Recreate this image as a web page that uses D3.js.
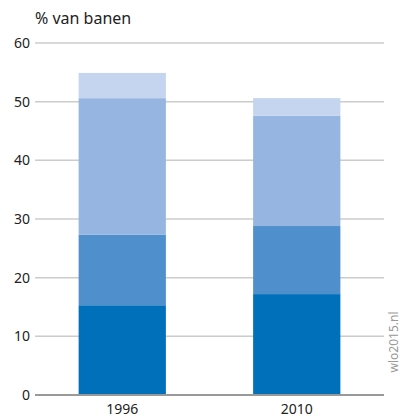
<!DOCTYPE html>
<html><head><meta charset="utf-8">
<script src="https://cdn.jsdelivr.net/npm/d3@7/dist/d3.min.js"></script>
<style>body{margin:0;background:#fff}svg{display:block}text{font-family:"Noto Sans",sans-serif}</style>
</head><body><svg id="c" width="402" height="419"></svg>
<script>
const categories = ["1996", "2010"];
const seriesNames = ["s1", "s2", "s3", "s4"];
const s1 = [15.3, 17.2];
const s2 = [12.0, 11.6];
const s3 = [23.3, 18.8];
const s4 = [4.3, 3.0];
const yTicks = [0, 10, 20, 30, 40, 50, 60];
const colors = ["#0070ba", "#4f8fcc", "#96b6e1", "#c5d5ef"];

const svg = d3.select("#c");
const x0 = 35, x1 = 384, yTop = 43, yBot = 395;
const x = d3.scaleBand().domain(categories).range([x0, x1]).paddingInner(0.5).paddingOuter(0.25);
const y = d3.scaleLinear().domain([0, 60]).range([yBot, yTop]);

// gridlines
svg.append("g").selectAll("line").data(yTicks.filter(d => d > 0)).join("line")
  .attr("x1", x0).attr("x2", x1).attr("y1", d => y(d)).attr("y2", d => y(d))
  .attr("stroke", "#cccccc").attr("stroke-width", 1.5);

const table = categories.map((c, i) => ({cat: c, s1: s1[i], s2: s2[i], s3: s3[i], s4: s4[i]}));
const stack = d3.stack().keys(seriesNames)(table);
svg.append("g").selectAll("g").data(stack).join("g").attr("fill", (d, i) => colors[i])
  .selectAll("rect").data(d => d).join("rect")
  .attr("x", d => x(d.data.cat)).attr("width", x.bandwidth())
  .attr("y", d => y(d[1])).attr("height", d => y(d[0]) - y(d[1]));

// baseline
svg.append("line").attr("x1", x0).attr("x2", x1).attr("y1", y(0)).attr("y2", y(0))
  .attr("stroke", "#999999").attr("stroke-width", 2);

// y tick labels
svg.append("g").selectAll("text").data(yTicks).join("text")
  .attr("x", 30).attr("y", d => y(d)).attr("dy", "0.35em").attr("text-anchor", "end")
  .attr("font-size", 14).attr("fill", "#222").text(d => d);

// x labels
svg.append("g").selectAll("text").data(categories).join("text")
  .attr("x", d => x(d) + x.bandwidth() / 2).attr("y", 414).attr("text-anchor", "middle")
  .attr("font-size", 14).attr("fill", "#222").text(d => d);

svg.append("text").attr("x", 35).attr("y", 24).attr("font-size", 16).attr("fill", "#222").text("% van banen");

svg.append("text").attr("transform", "translate(398,342) rotate(-90)").attr("text-anchor", "middle")
  .attr("font-size", 12).attr("fill", "#999").text("wlo2015.nl");
</script></body></html>
